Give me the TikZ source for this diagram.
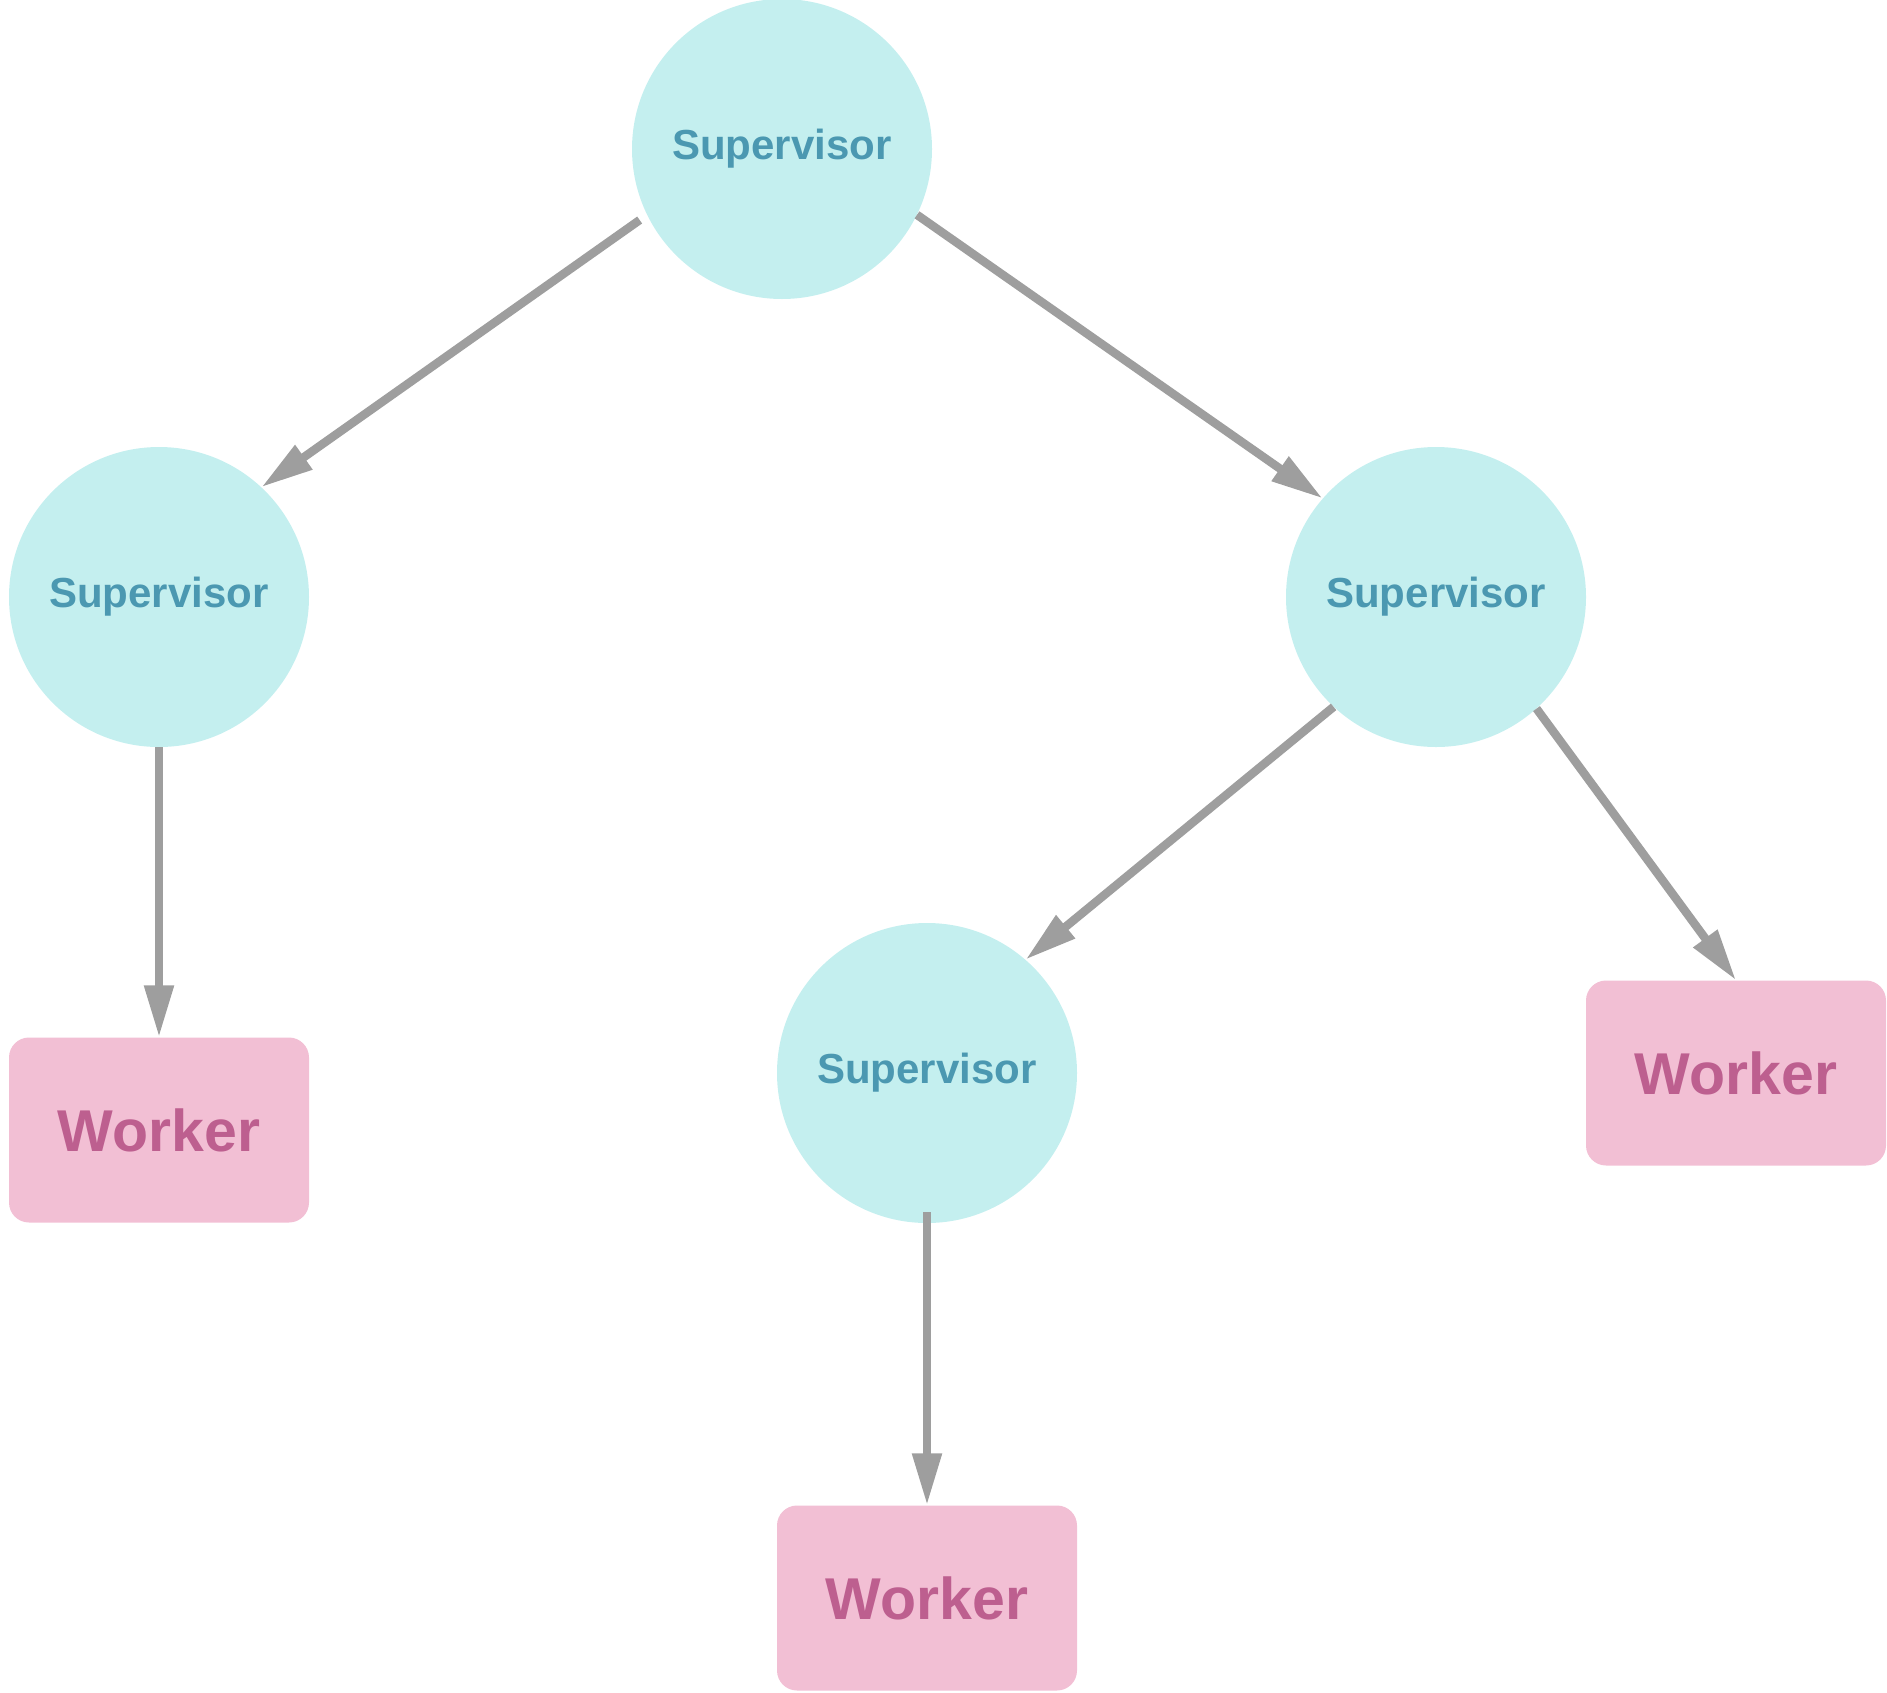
\documentclass[tikz,border=0pt]{standalone}
\usepackage{fontspec}
\setmainfont{Liberation Sans}
\usetikzlibrary{arrows.meta}
\definecolor{supfill}{HTML}{C4EFEF}
\definecolor{suptext}{HTML}{4B98B1}
\definecolor{wrkfill}{HTML}{F2BFD4}
\definecolor{wrktext}{HTML}{BD5F8F}
\definecolor{linkgray}{HTML}{9E9E9E}
\begin{document}
\begin{tikzpicture}[x=1pt, y=-1pt,
	sup/.style={shape=circle, fill=supfill, text=suptext, minimum size=300pt, inner sep=0pt,
		font=\fontsize{42}{50}\selectfont\bfseries},
	wrk/.style={shape=rectangle, rounded corners=20pt, fill=wrkfill, text=wrktext,
		minimum width=300pt, minimum height=185pt, font=\fontsize{59}{70}\selectfont\bfseries},
	link/.style={linkgray, line width=8.5pt, -{Triangle[length=52pt,width=28pt]}}]
	\useasboundingbox (0,0) rectangle (1887,1692);

	\node[sup] (s0) at (782,149)   {Supervisor};
	\node[sup] (s1) at (159,597)   {Supervisor};
	\node[sup] (s2) at (1436,597)  {Supervisor};
	\node[sup] (s3) at (927,1073)  {Supervisor};
	\node[wrk] (w1) at (159,1130)  {Worker};
	\node[wrk] (w2) at (1736,1073) {Worker};
	\node[wrk] (w3) at (927,1598)  {Worker};

	\path [link, shorten <=9pt] (s0.206) edge (s1.47);
	\path [link]                (s0.334) edge (s2.139);
	\path [link]                (s1.south) edge (w1.north);
	\path [link]                (s2.227) edge (s3.49);
	\path [link]                (s2.312) edge (w2.north);
	\path [link, shorten <=-11pt] (s3.south) edge (w3.north);
\end{tikzpicture}
\end{document}
